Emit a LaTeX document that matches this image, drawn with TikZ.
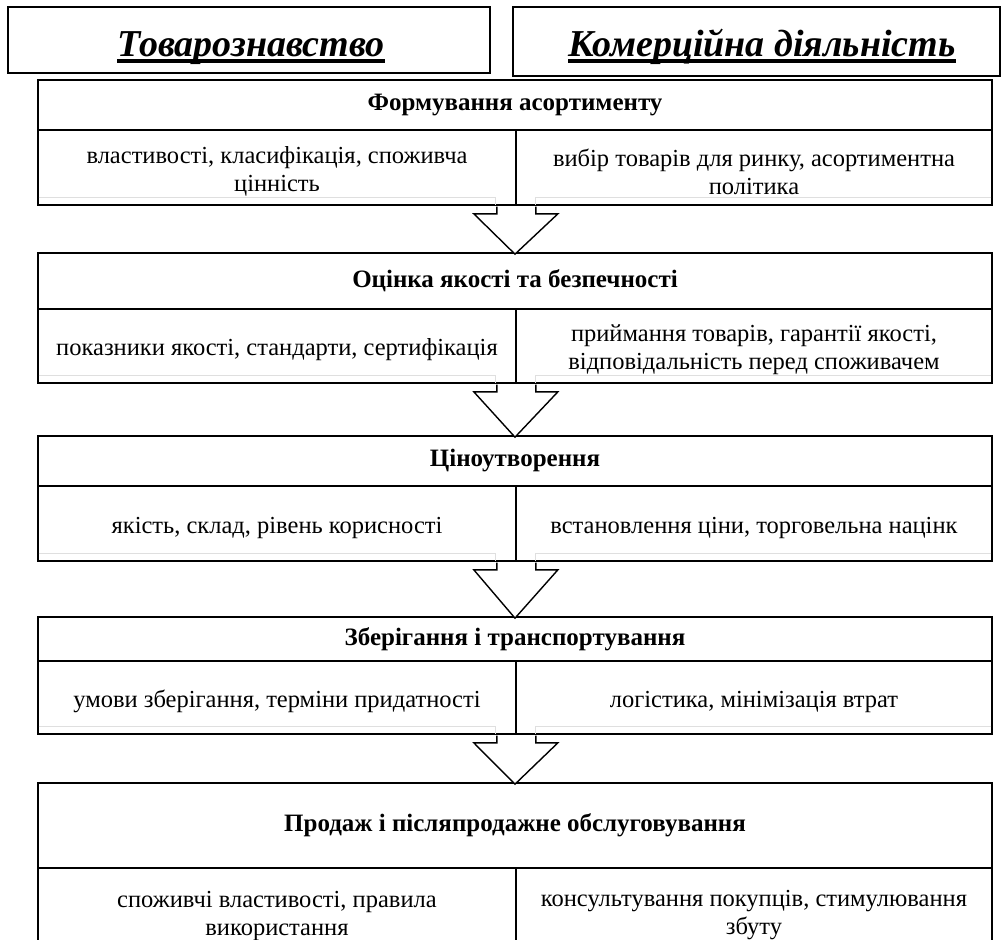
\documentclass[tikz,border=0pt]{standalone}
\usepackage{fontspec}
\setmainfont{Liberation Serif}

\newcommand*{\pagew}{1007}
\newcommand*{\pageh}{940}

\begin{document}
\begin{tikzpicture}
[
	x=1pt,
	y=-1pt,
	titlebox/.style={draw,line width=1.2pt,inner sep=0pt},
	titletext/.style={font=\fontsize{38}{44}\selectfont\bfseries\itshape,inner sep=0pt,anchor=base},
	headbox/.style={draw,line width=1.7pt,minimum width=954pt,inner sep=0pt,font=\fontsize{25}{29}\selectfont\bfseries},
	cellbox/.style={draw,line width=1.7pt,inner sep=0pt},
	celltext/.style={inner sep=0pt,align=center,font=\fontsize{24.5}{28}\selectfont},
	downarrow/.style={draw,fill=white,line width=1.4pt,line join=miter},
	ghost/.style={gray!25,line width=1pt}
]

	\useasboundingbox (0,0) rectangle (\pagew,\pageh);
	\clip (0,0) rectangle (\pagew,\pageh);

	% top titles
	\node[titlebox,minimum width=482pt,minimum height=66pt] (lbox) at (249,40) {};
	\node[titlebox,minimum width=487pt,minimum height=69pt] (rbox) at (756.5,41.5) {};
	\node[titletext] (ltitle) at (251,56) {Товарознавство};
	\node[titletext] (rtitle) at (762,56) {Комерційна діяльність};
	\draw[line width=3.5pt] ([yshift=-5pt]ltitle.base west) -- ([yshift=-5pt]ltitle.base east);
	\draw[line width=3.5pt] ([yshift=-5pt]rtitle.base west) -- ([yshift=-5pt]rtitle.base east);

	% stages
	\foreach \n/\top/\mid/\bot/\head/\ltext/\rtext in {
		1/80/130/205/{Формування асортименту}/{властивості, класифікація, споживча\\цінність}/{вибір товарів для ринку, асортиментна\\політика},
		2/253/309/383/{Оцінка якості та безпечності}/{показники якості, стандарти, сертифікація}/{приймання товарів, гарантії якості,\\відповідальність перед споживачем},
		3/436/486/561/{Ціноутворення}/{якість, склад, рівень корисності}/{встановлення ціни, торговельна націнк},
		4/617/661/734/{Зберігання і транспортування}/{умови зберігання, терміни придатності}/{логістика, мінімізація втрат},
		5/783/868/955/{Продаж і післяпродажне обслуговування}/{споживчі властивості, правила\\використання}/{консультування покупців, стимулювання\\збуту}%
	} {
		\node[headbox,minimum height={(\mid-\top)*1pt}] (hd\n) at (515,{(\top+\mid)/2}) {\head};
		\node[cellbox,minimum width=478pt,minimum height={(\bot-\mid)*1pt}] (lc\n) at (277,{(\mid+\bot)/2}) {};
		\node[cellbox,minimum width=476pt,minimum height={(\bot-\mid)*1pt}] (rc\n) at (754,{(\mid+\bot)/2}) {};
		\node[celltext] (lt\n) at ([yshift=-4pt]lc\n.center) {\ltext};
		\node[celltext] (rt\n) at ([yshift=-4pt]rc\n.center) {\rtext};
	}

	% faint frames and arrows
	\foreach \n/\m in {1/2,2/3,3/4,4/5} {
		\draw[ghost] ([xshift=1.5pt,yshift=8pt]lc\n.south west) -| ([xshift=-21pt,yshift=1pt]lc\n.south east);
		\draw[ghost] ([xshift=-1.5pt,yshift=8pt]rc\n.south east) -| ([xshift=20pt,yshift=1pt]rc\n.south west);
		\draw[downarrow]
		  ([xshift=-20pt,yshift=-0.85pt]lc\n.south east)
		  -- ([xshift=-20pt,yshift=-8pt]lc\n.south east)
		  -- ([xshift=-43pt,yshift=-8pt]lc\n.south east)
		  -- ([yshift=-2pt]hd\m.north)
		  -- ([xshift=41pt,yshift=-8pt]lc\n.south east)
		  -- ([xshift=19pt,yshift=-8pt]lc\n.south east)
		  -- ([xshift=19pt,yshift=-0.85pt]lc\n.south east)
		;
	}

\end{tikzpicture}
\end{document}
